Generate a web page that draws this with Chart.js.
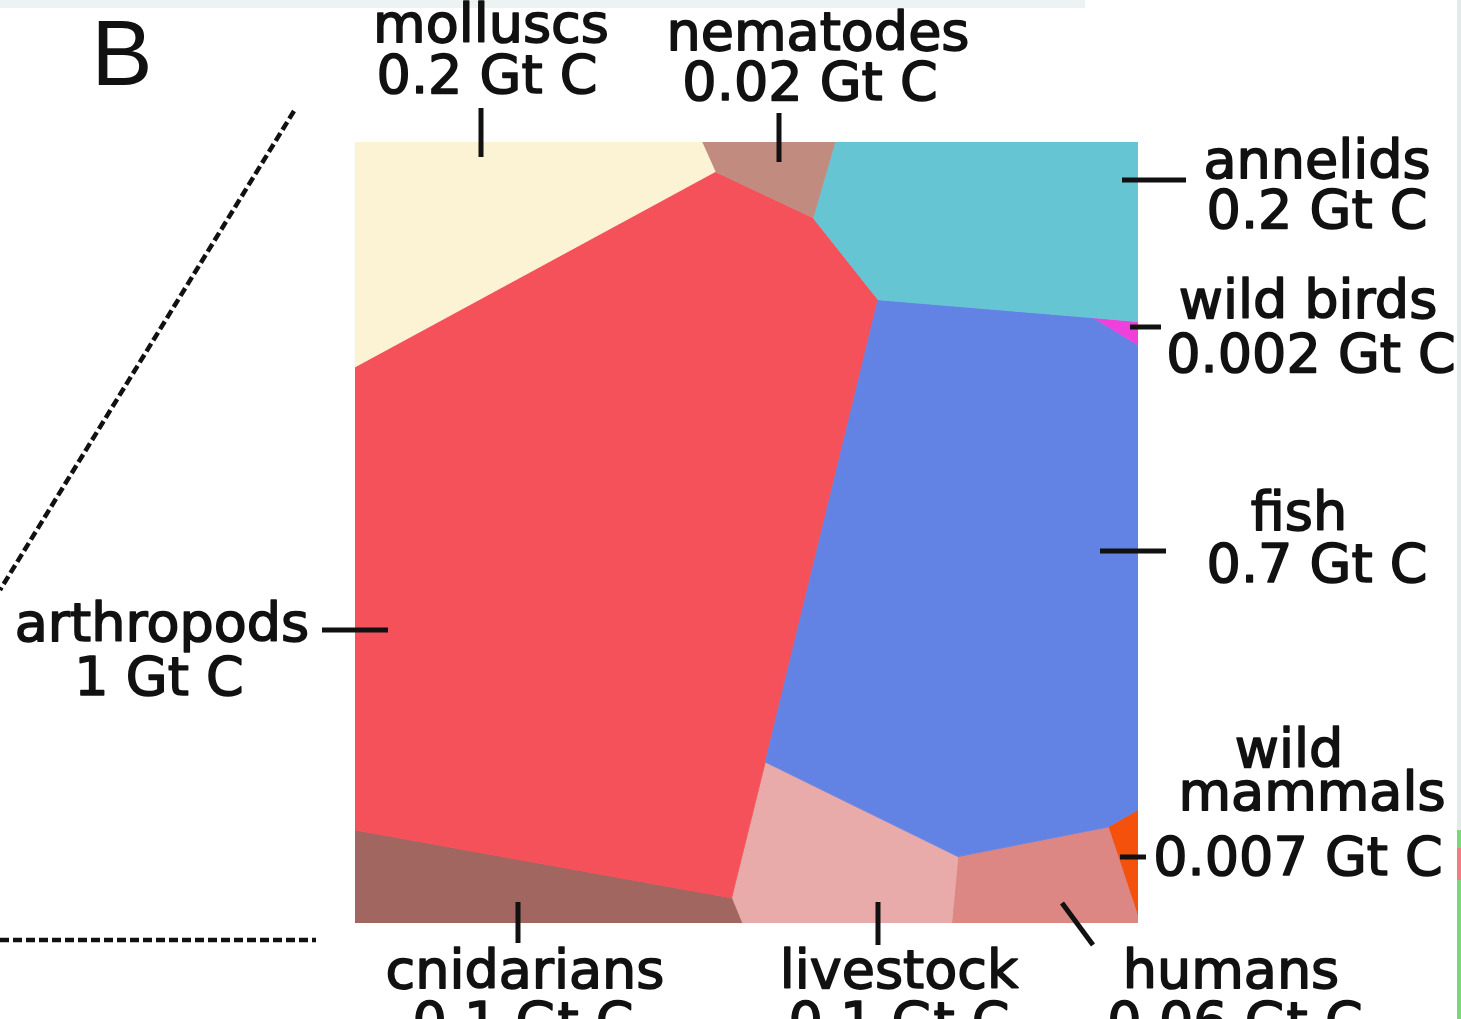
<!DOCTYPE html>
<html>
<head>
<meta charset="utf-8">
<script src="https://cdn.jsdelivr.net/npm/chart.js@4"></script>
<style>
  html, body { margin: 0; padding: 0; background: #ffffff; }
  #wrap { position: relative; width: 1461px; height: 1019px; overflow: hidden; }
  canvas { display: block; }
</style>
</head>
<body>
<div id="wrap"><canvas id="c" width="1461" height="1019"></canvas></div>
<script>
// ---- data (Voronoi treemap cells, in a 0..100 unit square) ----
const categories = ["molluscs", "nematodes", "annelids", "wild birds", "fish",
                    "arthropods", "cnidarians", "livestock", "humans", "wild mammals"];
const valuesGtC = [0.2, 0.02, 0.2, 0.002, 0.7, 1, 0.1, 0.1, 0.06, 0.007];
const cellMolluscs    = [[0,100],[44.3,100],[46.0,96.2],[0,71.2]];
const cellNematodes   = [[44.3,100],[61.3,100],[58.5,90.3],[46.0,96.2]];
const cellAnnelids    = [[61.3,100],[100,100],[100,77.0],[94.3,77.5],[66.8,79.8],[58.5,90.3]];
const cellWildBirds   = [[94.3,77.5],[100,77.0],[100,74.0]];
const cellFish        = [[66.8,79.8],[94.3,77.5],[100,74.0],[100,14.5],[96.2,12.3],[77.0,8.5],[52.4,20.6]];
const cellArthropods  = [[0,71.2],[46.0,96.2],[58.5,90.3],[66.8,79.8],[52.4,20.6],[48.1,3.2],[0,11.9]];
const cellCnidarians  = [[0,11.9],[48.1,3.2],[49.4,0],[0,0]];
const cellLivestock   = [[52.4,20.6],[77.0,8.5],[76.2,0],[49.4,0],[48.1,3.2]];
const cellHumans      = [[77.0,8.5],[96.2,12.3],[100,0.8],[100,0],[76.2,0]];
const cellWildMammals = [[96.2,12.3],[100,14.5],[100,0.8]];
const cells = [cellMolluscs, cellNematodes, cellAnnelids, cellWildBirds, cellFish,
               cellArthropods, cellCnidarians, cellLivestock, cellHumans, cellWildMammals];

// ---- styles ----
const colors = ["#FCF3D4", "#C18B80", "#66C5D3", "#F040DC", "#6383E4",
                "#F5515A", "#A0665F", "#E9ABAA", "#DC8783", "#F4520C"];

const datasets = cells.map((cell, i) => ({
  label: categories[i],
  data: cell.concat([cell[0]]).map(p => ({x: p[0], y: p[1]})),
  showLine: true,
  fill: 'shape',
  backgroundColor: colors[i],
  borderColor: colors[i],
  borderWidth: 0.8,
  pointRadius: 0,
  tension: 0
}));

function valText(i) { return valuesGtC[i] + " Gt C"; }
const labelLayout = [
  {lines: [[categories[0], 491, 42], [valText(0), 487, 93]], lead: [481,108,481,157]},
  {lines: [[categories[1], 818, 50], [valText(1), 810, 100]], lead: [779,113,779,162]},
  {lines: [[categories[2], 1317, 178], [valText(2), 1317, 228]], lead: [1122,180,1186,180]},
  {lines: [[categories[3], 1308, 318], [valText(3), 1311, 372]], lead: [1130,327,1161,327]},
  {lines: [[categories[4], 1299, 530], [valText(4), 1317, 582]], lead: [1100,551,1166,551]},
  {lines: [["wild", 1289, 767], ["mammals", 1312, 810], [valText(9), 1298, 875]], lead: [1120,857,1146,857]},
  {lines: [[categories[5], 162, 641], [valText(5), 159, 695]], lead: [322,630,388,630]},
  {lines: [[categories[6], 525, 988], [valText(6), 523, 1040]], lead: [518,902,518,943]},
  {lines: [[categories[7], 899, 988], [valText(7), 899, 1040]], lead: [878,902,878,945]},
  {lines: [[categories[8], 1231, 988], [valText(8), 1235, 1040]], lead: [1062,903,1093,945]}
];

const decorPlugin = {
  id: 'decor',
  beforeDraw(chart) {
    const ctx = chart.ctx;
    ctx.save();
    ctx.fillStyle = '#ffffff';
    ctx.fillRect(0, 0, chart.width, chart.height);
    ctx.fillStyle = '#EDF2F3';
    ctx.fillRect(0, 0, 1085, 8);
    ctx.fillStyle = '#E4E9EA';
    ctx.fillRect(1457, 0, 4, 830);
    ctx.fillStyle = '#7ED67A';
    ctx.fillRect(1457, 830, 4, 189);
    ctx.fillStyle = '#F08080';
    ctx.fillRect(1457, 848, 4, 32);
    ctx.restore();
  },
  afterDraw(chart) {
    const ctx = chart.ctx;
    ctx.save();
    ctx.fillStyle = '#111111';
    ctx.strokeStyle = '#111111';
    ctx.textAlign = 'center';
    ctx.textBaseline = 'alphabetic';
    // panel letter
    ctx.font = '92px "Liberation Sans"';
    ctx.fillText('B', 122, 85);
    // dashed zoom lines
    ctx.lineWidth = 4.5;
    ctx.setLineDash([9, 4]);
    ctx.beginPath();
    ctx.moveTo(294, 111); ctx.lineTo(0, 590);
    ctx.moveTo(0, 940); ctx.lineTo(316, 940);
    ctx.stroke();
    ctx.setLineDash([]);
    // labels
    ctx.font = '54px "DejaVu Sans"';
    ctx.lineJoin = 'round';
    labelLayout.forEach(l => {
      l.lines.forEach(([t, x, y]) => {
        ctx.lineWidth = 1.6;
        ctx.strokeText(t, x, y);
        ctx.fillText(t, x, y);
      });
      ctx.lineWidth = 5;
      ctx.beginPath();
      ctx.moveTo(l.lead[0], l.lead[1]);
      ctx.lineTo(l.lead[2], l.lead[3]);
      ctx.stroke();
    });
    ctx.restore();
  }
};

new Chart(document.getElementById('c'), {
  type: 'scatter',
  data: { datasets },
  options: {
    responsive: false,
    animation: false,
    devicePixelRatio: 1,
    layout: { padding: { left: 355, right: 323, top: 142, bottom: 96 } },
    plugins: { legend: { display: false }, tooltip: { enabled: false } },
    scales: {
      x: { type: 'linear', min: 0, max: 100, display: false },
      y: { type: 'linear', min: 0, max: 100, display: false }
    }
  },
  plugins: [decorPlugin]
});
</script>
</body>
</html>
